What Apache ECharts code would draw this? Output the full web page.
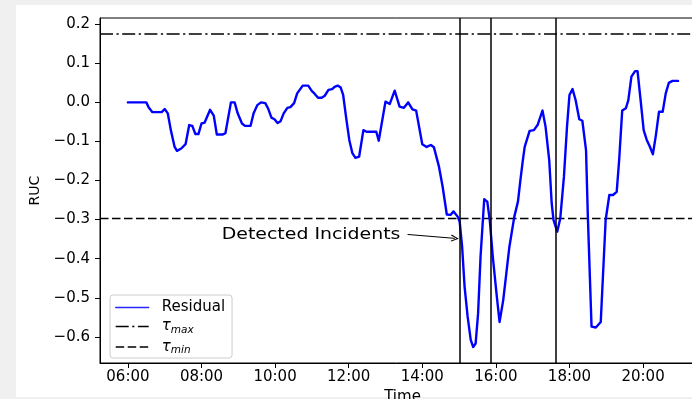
<!DOCTYPE html>
<html>
<head>
<meta charset="utf-8">
<script src="https://cdn.jsdelivr.net/npm/echarts@6/dist/echarts.min.js"></script>
<style>
  html, body { margin: 0; padding: 0; background: #f0f0f0; }
  #wrap { position: relative; width: 692px; height: 399px; overflow: hidden; }
  #paper { position: absolute; left: 16px; top: 5px; width: 676px; height: 392px; background: #fff; }
  #chart { position: absolute; left: 0; top: 0; width: 692px; height: 399px; }
</style>
</head>
<body>
<div id="wrap"><div id="paper"></div><div id="chart"></div></div>
<script>
// Residual of the RUC signal over the day
const times = [
  '06:00','06:30','06:34','06:40','06:55','07:00','07:05','07:10','07:16','07:20',
  '07:27','07:34','07:40','07:45','07:50','07:55','08:00','08:05','08:14','08:20',
  '08:25','08:35','08:39','08:48','08:54','08:59','09:06','09:11','09:20','09:25',
  '09:31','09:37','09:44','09:49','09:54','09:59','10:04','10:09','10:14','10:20',
  '10:25','10:31','10:36','10:41','10:45','10:54','11:00','11:04','11:10','11:16',
  '11:21','11:27','11:33','11:37','11:42','11:47','11:51','11:56','12:01','12:06',
  '12:11','12:17','12:24','12:29','12:45','12:49','13:00','13:07','13:15','13:23',
  '13:30','13:37','13:44','13:50','14:00','14:07','14:14','14:19','14:27','14:33',
  '14:40','14:46','14:51','14:58','15:01','15:05','15:09','15:14','15:19','15:23',
  '15:27','15:31','15:35','15:41','15:46','15:50','15:55','16:01','16:06','16:12',
  '16:17','16:22','16:30','16:36','16:40','16:44','16:47','16:50','16:55','17:02',
  '17:08','17:16','17:21','17:27','17:31','17:34','17:40','17:45','17:51','17:56',
  '18:00','18:05','18:10','18:16','18:21','18:27','18:30','18:36','18:43','18:51',
  '18:59','19:05','19:11','19:17','19:21','19:26','19:32','19:36','19:41','19:47',
  '19:51','19:56','20:01','20:06','20:11','20:16','20:21','20:26','20:32','20:37',
  '20:42','20:48','20:57'
];
const residual = [
  0.000, 0.000, -0.013, -0.025, -0.025, -0.017, -0.028, -0.071, -0.113, -0.124,
  -0.118, -0.107, -0.058, -0.060, -0.081, -0.081, -0.054, -0.052, -0.019, -0.034,
  -0.082, -0.082, -0.079, 0.000, 0.000, -0.028, -0.054, -0.060, -0.060, -0.028,
  -0.007, 0.000, -0.002, -0.017, -0.039, -0.043, -0.053, -0.048, -0.028, -0.014,
  -0.012, -0.002, 0.023, 0.034, 0.043, 0.043, 0.029, 0.023, 0.012, 0.012,
  0.017, 0.032, 0.034, 0.040, 0.043, 0.038, 0.019, -0.041, -0.096, -0.130,
  -0.142, -0.139, -0.071, -0.075, -0.075, -0.098, 0.002, -0.004, 0.030, -0.011,
  -0.014, 0.000, -0.018, -0.021, -0.107, -0.114, -0.109, -0.115, -0.163, -0.214,
  -0.287, -0.288, -0.279, -0.293, -0.306, -0.370, -0.472, -0.549, -0.608, -0.626,
  -0.617, -0.540, -0.395, -0.248, -0.254, -0.301, -0.395, -0.489, -0.562, -0.506,
  -0.438, -0.370, -0.293, -0.254, -0.199, -0.148, -0.114, -0.117, -0.073, -0.071,
  -0.058, -0.021, -0.062, -0.148, -0.258, -0.301, -0.331, -0.297, -0.190, -0.062,
  0.019, 0.034, 0.006, -0.043, -0.047, -0.122, -0.293, -0.574, -0.576, -0.562,
  -0.301, -0.237, -0.237, -0.229, -0.148, -0.021, -0.015, 0.006, 0.066, 0.080,
  0.080, 0.006, -0.071, -0.096, -0.113, -0.133, -0.083, -0.024, -0.024, 0.023,
  0.050, 0.055, 0.055
];

// Thresholds and detected incidents
const tauMax = 0.175;
const tauMin = -0.297;
const incidents = ['15:01', '15:51', '17:37'];

// Axis ranges and ticks
const xRange = ['05:14.5', '21:41'];
const yRange = [-0.667, 0.216];
const xTickLabels = ['06:00', '08:00', '10:00', '12:00', '14:00', '16:00', '18:00', '20:00'];
const yTickValues = [-0.6, -0.5, -0.4, -0.3, -0.2, -0.1, 0.0, 0.1, 0.2];

// Annotation
const noteText = 'Detected Incidents';
const noteAnchor = ['08:33', -0.339];
const arrowFrom = ['13:36', -0.338];
const arrowTo = ['14:53', -0.348];

const FONT = '"DejaVu Sans", Verdana, sans-serif';

function toMin(s) {
  const p = s.split(':');
  return Number(p[0]) * 60 + Number(p[1]);
}
function fmtTime(v) {
  const h = Math.floor(Math.round(v) / 60), m = Math.round(v) % 60;
  return String(h).padStart(2, '0') + ':' + String(m).padStart(2, '0');
}
function fmtVal(v) {
  const r = Math.round(v * 10) / 10;
  if (Math.abs(r) < 1e-9) return '0.0';
  return (r < 0 ? '\u2212' : '') + Math.abs(r).toFixed(1);
}

const xMin = toMin(xRange[0]), xMax = toMin(xRange[1]);
const xTicks = xTickLabels.map(toMin);
const residualData = times.map((t, i) => [toMin(t), residual[i]]);

const chart = echarts.init(document.getElementById('chart'), null, { renderer: 'canvas' });

const arrowHead = 'path://M5,0 L10,9 L8.8,9.8 L5,2.8 L1.2,9.8 L0,9 Z';
const dashDot = [13, 3.5, 2.2, 3.5];
const dashed = [8.5, 3.5];

chart.setOption({
  animation: false,
  backgroundColor: 'transparent',
  grid: {
    left: 100, top: 18, width: 605, height: 345,
    outerBoundsMode: 'none', containLabel: false,
    show: true, borderColor: '#000', borderWidth: 1, backgroundColor: 'transparent'
  },
  xAxis: {
    type: 'value', min: xMin, max: xMax,
    axisLine: { show: true, onZero: false, lineStyle: { color: '#000', width: 1 } },
    axisTick: { show: true, length: 5, lineStyle: { color: '#000', width: 1 }, customValues: xTicks },
    axisLabel: { customValues: xTicks, formatter: fmtTime, margin: 7, color: '#000', fontFamily: FONT, fontSize: 15 },
    splitLine: { show: false },
    name: 'Time', nameLocation: 'middle', nameGap: 25,
    nameTextStyle: { color: '#000', fontFamily: FONT, fontSize: 15 }
  },
  yAxis: {
    type: 'value', min: yRange[0], max: yRange[1],
    axisLine: { show: true, onZero: false, lineStyle: { color: '#000', width: 1 } },
    axisTick: { show: true, length: 5, lineStyle: { color: '#000', width: 1 }, customValues: yTickValues },
    axisLabel: { customValues: yTickValues, formatter: fmtVal, margin: 10, color: '#000', fontFamily: FONT, fontSize: 15 },
    splitLine: { show: false },
    name: 'RUC', nameLocation: 'middle', nameGap: 56, nameRotate: 90,
    nameTextStyle: { color: '#000', fontFamily: FONT, fontSize: 14 }
  },
  legend: {
    orient: 'vertical', left: 110, top: 295,
    padding: [5, 7, 2, 5],
    itemWidth: 33, itemHeight: 12, itemGap: 4,
    backgroundColor: 'rgba(255,255,255,0.8)',
    borderColor: '#cccccc', borderWidth: 1, borderRadius: 3,
    itemStyle: { opacity: 0 },
    textStyle: {
      color: '#000', fontFamily: FONT, fontSize: 15, padding: [0, 0, 0, 8],
      rich: {
        tau: { color: '#000', fontFamily: FONT, fontSize: 15, fontStyle: 'italic' },
        sub: { color: '#000', fontFamily: FONT, fontSize: 10.5, fontStyle: 'italic', padding: [7, 0, 0, 0] }
      }
    },
    formatter: function (name) {
      if (name === 'Residual') return name;
      return '{tau|\u03c4}{sub|' + (name === '\u03c4max' ? 'max' : 'min') + '}';
    },
    data: [
      { name: 'Residual', itemStyle: { opacity: 0 }, lineStyle: { width: 1.3, type: 'solid', opacity: 0.85 } },
      { name: '\u03c4max', itemStyle: { opacity: 0 }, lineStyle: { width: 1.4, type: dashDot } },
      { name: '\u03c4min', itemStyle: { opacity: 0 }, lineStyle: { width: 1.4, type: dashed } }
    ]
  },
  series: [
    {
      name: 'Residual', type: 'line', data: residualData,
      showSymbol: false, symbol: 'none', z: 3,
      color: '#0000ff',
      lineStyle: { color: '#0000ff', width: 2.4, join: 'round', cap: 'round' },
      itemStyle: { color: '#0000ff' },
      markLine: {
        silent: true, symbol: ['none', 'none'], animation: false,
        label: { show: false },
        lineStyle: { color: '#000', width: 1.5, type: 'solid' },
        data: incidents.map(t => ({ xAxis: toMin(t) })).concat([[
          { coord: [toMin(arrowFrom[0]), arrowFrom[1]], symbol: 'none', lineStyle: { width: 1, color: '#000' } },
          { coord: [toMin(arrowTo[0]), arrowTo[1]], symbol: arrowHead, symbolSize: [7, 8] }
        ]])
      }
    },
    {
      name: '\u03c4max', type: 'line', data: [[xMin, tauMax], [xMax, tauMax]],
      showSymbol: false, symbol: 'none', z: 2, color: '#000',
      lineStyle: { color: '#000', width: 1.6, type: dashDot },
      itemStyle: { color: '#000' }
    },
    {
      name: '\u03c4min', type: 'line', data: [[xMin, tauMin], [xMax, tauMin]],
      showSymbol: false, symbol: 'none', z: 2, color: '#000',
      lineStyle: { color: '#000', width: 1.6, type: dashed },
      itemStyle: { color: '#000' }
    }
  ]
});

// Annotation text, placed from its data coordinates
const p = chart.convertToPixel({ xAxisIndex: 0, yAxisIndex: 0 }, [toMin(noteAnchor[0]), noteAnchor[1]]);
chart.setOption({
  graphic: [{
    type: 'text', x: p[0], y: p[1], scaleX: 1.26, z: 10,
    style: { text: noteText, font: '15px ' + FONT, fill: '#000', align: 'left', verticalAlign: 'middle' }
  }]
});
</script>
</body>
</html>
